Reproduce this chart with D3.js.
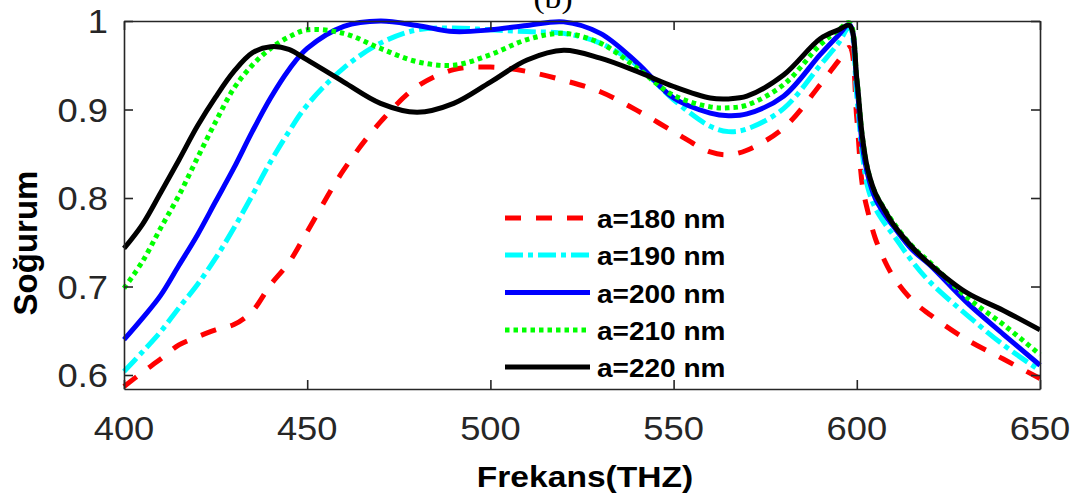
<!DOCTYPE html>
<html><head><meta charset="utf-8">
<script src="https://cdn.jsdelivr.net/npm/d3@7"></script>
<style>body{margin:0;background:#fff}svg{display:block}</style>
</head><body><svg id="c" width="1082" height="498"></svg>
<script>
const freq = [400,405,410,415,420,425,430,435,440,445,450,460,470,480,490,500,510,520,530,540,550,560,565,570,580,590,595,598,600,601.5,603,605,607.5,610,615,620,630,640,650];
const a180 = [0.587,0.603,0.618,0.634,0.643,0.651,0.657,0.672,0.702,0.727,0.762,0.832,0.886,0.926,0.945,0.948,0.943,0.933,0.920,0.899,0.875,0.852,0.849,0.854,0.879,0.928,0.955,0.970,0.890,0.815,0.785,0.755,0.730,0.711,0.685,0.668,0.640,0.618,0.596];
const a190 = [0.604,0.626,0.649,0.676,0.702,0.732,0.766,0.803,0.841,0.875,0.905,0.947,0.975,0.990,0.992,0.990,0.988,0.986,0.975,0.950,0.911,0.881,0.875,0.878,0.901,0.950,0.975,0.993,0.915,0.850,0.812,0.789,0.772,0.758,0.729,0.705,0.668,0.634,0.605];
const a200 = [0.640,0.664,0.690,0.724,0.758,0.796,0.834,0.875,0.913,0.945,0.969,0.994,1.000,0.995,0.988,0.990,0.995,0.999,0.986,0.953,0.913,0.896,0.893,0.895,0.915,0.962,0.984,0.996,0.930,0.860,0.826,0.800,0.782,0.768,0.742,0.724,0.682,0.646,0.611];
const a210 = [0.698,0.728,0.766,0.803,0.845,0.886,0.924,0.950,0.969,0.982,0.990,0.986,0.969,0.954,0.950,0.962,0.979,0.986,0.975,0.947,0.916,0.903,0.902,0.905,0.928,0.973,0.990,0.998,0.935,0.870,0.832,0.806,0.788,0.772,0.746,0.727,0.688,0.657,0.623];
const a220 = [0.743,0.770,0.806,0.843,0.881,0.914,0.943,0.964,0.971,0.968,0.956,0.931,0.907,0.897,0.907,0.931,0.956,0.967,0.958,0.943,0.926,0.913,0.912,0.915,0.939,0.980,0.990,0.995,0.935,0.870,0.832,0.806,0.787,0.770,0.745,0.725,0.693,0.673,0.651];
const seriesNames = ["a=180 nm","a=190 nm","a=200 nm","a=210 nm","a=220 nm"];
const xTicks = [400,450,500,550,600,650];
const yTicks = [0.6,0.7,0.8,0.9,1];
const yTickLabels = ["0.6","0.7","0.8","0.9","1"];

const seriesValues = [a180,a190,a200,a210,a220];
const colors = ["#ff0000","#00ffff","#0000ff","#00ff00","#000000"];
const dashes = ["16,15","18,5,5,5",null,"4.5,4",null];

const svg = d3.select("#c");
const L=124,R=1040,T=21,B=389;
const x = d3.scaleLinear().domain([400,650]).range([L,R]);
const y = d3.scaleLinear().domain([0.5842,1]).range([B,T]);
const axisColor="#262626";
const SX=1.1;
const font="'Liberation Sans', Arial, Helvetica, sans-serif";

// lines
const line = d3.line().x((d,i)=>x(freq[i])).y(d=>y(d)).curve(d3.curveCatmullRom.alpha(0.5));
seriesValues.forEach((vals,k)=>{
  svg.append("path").attr("d",line(vals)).attr("fill","none")
    .attr("stroke",colors[k]).attr("stroke-width",5)
    .attr("stroke-dasharray",dashes[k]).attr("stroke-linejoin","round");
});

// axes box with inward ticks
const g = svg.append("g");
const bottomAxis = d3.axisBottom(x).tickValues(xTicks).tickSizeInner(-9).tickSizeOuter(0).tickFormat("");
const topAxis = d3.axisTop(x).tickValues(xTicks).tickSizeInner(-9).tickSizeOuter(0).tickFormat("");
const leftAxis = d3.axisLeft(y).tickValues(yTicks).tickSizeInner(-9).tickSizeOuter(0).tickFormat("");
const rightAxis = d3.axisRight(y).tickValues(yTicks).tickSizeInner(-9).tickSizeOuter(0).tickFormat("");
g.append("g").attr("transform",`translate(0,${B})`).call(bottomAxis);
g.append("g").attr("transform",`translate(0,${T})`).call(topAxis);
g.append("g").attr("transform",`translate(${L},0)`).call(leftAxis);
g.append("g").attr("transform",`translate(${R},0)`).call(rightAxis);
g.selectAll(".domain").attr("stroke",axisColor).attr("stroke-width",1.6);
g.selectAll(".tick line").attr("stroke",axisColor).attr("stroke-width",1.6);

function txt(xp,yp,s,opts){
  const t = svg.append("text").attr("transform",`translate(${xp},${yp}) scale(${opts.sx||SX},1)`)
    .attr("font-family",opts.family||font).attr("font-size",opts.size)
    .attr("font-weight",opts.weight||"normal").attr("fill",opts.fill||axisColor)
    .attr("text-anchor",opts.anchor||"start").text(s);
  return t;
}
xTicks.forEach(v=>txt(x(v),440,String(v),{size:33,anchor:"middle"}));
yTicks.forEach((v,i)=>txt(108,y(v)+12,yTickLabels[i],{size:33,anchor:"end"}));

// axis titles
txt(585,487,"Frekans(THZ)",{size:30,weight:"bold",anchor:"middle",fill:"#000",sx:1.12});
svg.append("text").attr("transform","translate(37,243) rotate(-90)")
  .attr("font-family",font).attr("font-size",33).attr("font-weight","bold")
  .attr("text-anchor","middle").attr("fill","#000").text("Soğurum");
// title (cut off at the top edge, as in the reference)
txt(553,8,"(b)",{size:30,anchor:"middle",fill:"#000",family:"'Liberation Serif','DejaVu Serif',serif",sx:1.12});

// legend
const legY = [218,255,292.5,330,367];
seriesNames.forEach((n,k)=>{
  svg.append("line").attr("x1",505).attr("x2",590).attr("y1",legY[k]).attr("y2",legY[k])
    .attr("stroke",colors[k]).attr("stroke-width",5).attr("stroke-dasharray",dashes[k]);
  txt(597,legY[k]+10,n,{size:25,weight:"bold",fill:"#000",sx:1.12});
});
</script></body></html>
